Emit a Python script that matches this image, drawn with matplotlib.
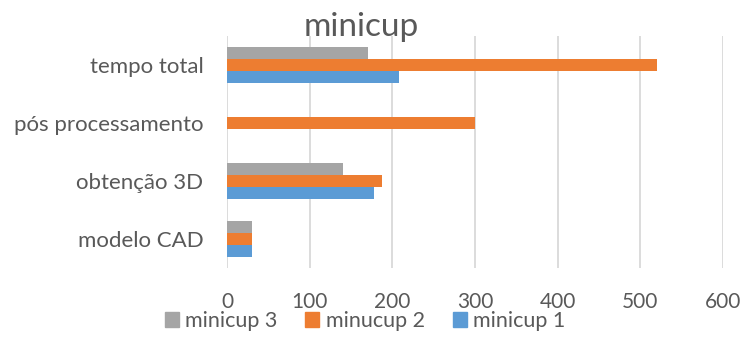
import matplotlib

matplotlib.use("Agg")
import matplotlib.pyplot as plt
import numpy as np
from matplotlib.patches import Patch

categories = ["modelo CAD", "obtenção 3D", "pós processamento", "tempo total"]
series_names = ["minicup 1", "minucup 2", "minicup 3"]
minicup1 = [30, 178, 0, 208]
minicup2 = [30, 188, 300, 520]
minicup3 = [30, 140, 0, 170]
x_ticks = [0, 100, 200, 300, 400, 500, 600]

COLORS = ["#5B9BD5", "#ED7D31", "#A5A5A5"]
TEXT = "#595959"

plt.rcParams["font.family"] = ["Lato", "DejaVu Sans"]

fig = plt.figure(figsize=(7.54, 3.38), dpi=100)
ax = fig.add_axes([227 / 754, 1 - 268 / 338, (723 - 227) / 754, (268 - 36) / 338])

y = np.arange(len(categories))
bar_h = 12 / 58
offsets = [-bar_h, 0, bar_h]
for vals, off, col in zip([minicup1, minicup2, minicup3], offsets, COLORS):
    ax.barh(y + off, vals, height=bar_h, color=col, zorder=3)

ax.set_xlim(0, 600)
ax.set_ylim(-0.5, len(categories) - 0.5)
ax.set_xticks(x_ticks)
ax.set_yticks(y)
ax.set_yticklabels(categories)
ax.grid(axis="x", color="#D9D9D9", linewidth=1.3, zorder=0)
for s in ax.spines.values():
    s.set_visible(False)
ax.tick_params(length=0, colors=TEXT)
ax.tick_params(axis="x", labelsize=15, pad=17)
ax.tick_params(axis="y", labelsize=16, pad=17)

fig.text(361 / 754, 1 - 36 / 338, "minicup", ha="center", va="baseline",
         fontsize=24, color=TEXT)

handles = [Patch(color=COLORS[i]) for i in [2, 1, 0]]
labels = [series_names[i] for i in [2, 1, 0]]
fig.legend(handles, labels, loc="center", bbox_to_anchor=(365 / 754, 1 - 321 / 338),
           ncol=3, frameon=False, fontsize=15.5, labelcolor=TEXT,
           handlelength=0.65, handleheight=0.65, handletextpad=0.3,
           columnspacing=1.3, borderpad=0, borderaxespad=0)

fig.savefig("out.png")
